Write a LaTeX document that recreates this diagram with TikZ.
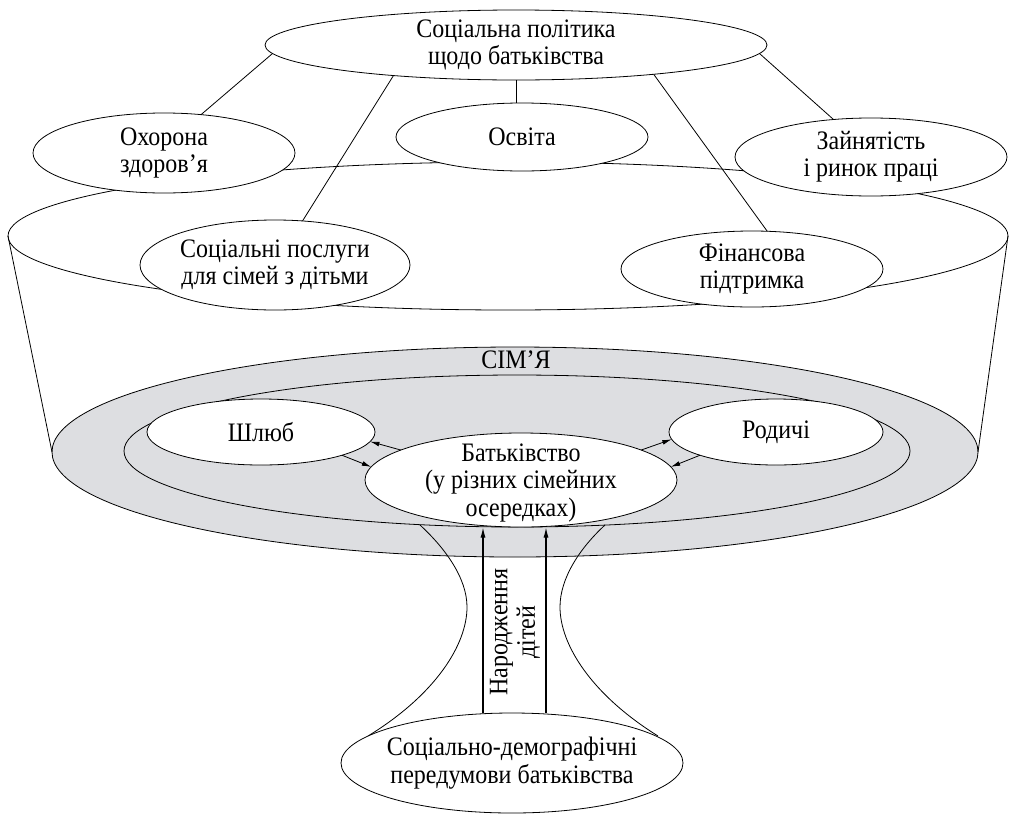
\documentclass[tikz,border=0pt]{standalone}
\usepackage{fontspec}
\setmainfont{Liberation Serif}[FakeStretch=0.9]
\usetikzlibrary{shapes.geometric,arrows.meta}
\definecolor{famgray}{RGB}{221,222,225}
\begin{document}
\begin{tikzpicture}[x=0.75pt,y=-0.75pt,line width=0.6pt,
  ell/.style n args={2}{ellipse, draw, fill=white, inner sep=0pt, outer sep=0pt,
     minimum width=#1*1.5pt, minimum height=#2*1.5pt},
  lbl/.style={align=center, font=\fontsize{20}{20.5}\selectfont, inner sep=0pt},
  arr/.style={-{Latex[length=7pt,width=3.6pt]}},
  uparr/.style={-{Latex[length=8pt,width=3.8pt]}, line width=1pt}]
\path[use as bounding box] (0,0) rectangle (1009,814);

% family ring
\node[ell={463}{105}, fill=famgray] (FAM) at (515,452) {};
\node[ell={393}{76}, fill=none] (IN) at (517,451) {};

% cylinder
\node[ell={500}{74}, fill=none] (BIG) at (508,236) {};
\draw (BIG.west) -- (FAM.west);
\draw (BIG.east) -- (FAM.east);

% policy nodes
\node[ell={251}{35}] (T) at (516,45) {};
\node[ell={131}{40}] (O) at (164,153) {};
\node[ell={126}{34}] (E) at (522,137) {};
\node[ell={136}{39}] (Z) at (871,157) {};
\node[ell={135}{45}] (S) at (275,265) {};
\node[ell={131}{38}] (F) at (752,269) {};

% connectors
\draw (T.182) -- (O.46);
\draw (T.194) -- (S.58);
\draw (T.south) -- (T.south |- E.north);
\draw (T.348) -- (F.68);
\draw (T.358) -- (Z.135);

% family inner nodes
\node[ell={114}{33}] (M) at (261,432) {};
\node[ell={107}{33}] (R) at (776,432) {};
\node[ell={156}{47}] (B) at (521,480) {};

\draw[arr] (B.166) -- (M.-5);
\draw[arr] (M.-16) -- (B.175);
\draw[arr] (B.14) -- (R.184);
\draw[arr] (R.197) -- (B.5);

% hourglass
\draw (420,525) .. controls (445,548) and (467,578) .. (467,607)
      .. controls (467,645) and (435,695) .. (368,736);
\draw (605,525) .. controls (580,548) and (560,578) .. (560,607)
      .. controls (560,645) and (592,695) .. (658,736);

\node[ell={171}{50}] (D) at (512,763) {};

\coordinate (a1) at (483,0);
\coordinate (a2) at (546,0);
\draw[uparr] (a1 |- D.north) -- (a1 |- B.south);
\draw[uparr] (a2 |- D.north) -- (a2 |- B.south);

% labels
\node[lbl] (Tt) at (T) {Соціальна політика\\щодо батьківства};
\node[lbl] (Ot) at (O) {Охорона\\здоров’я};
\node[lbl] (Et) at (E) {Освіта};
\node[lbl] (Zt) at (Z) {Зайнятість\\і ринок праці};
\node[lbl] (St) at (S) {Соціальні послуги\\для сімей з дітьми};
\node[lbl] (Ft) at (F) {Фінансова\\підтримка};
\node[lbl] (FAMt) at (516,360) {СІМ’Я};
\node[lbl] (Mt) at (M) {Шлюб};
\node[lbl] (Rt) at (R) {Родичі};
\node[lbl] (Bt) at (521,483) {Батьківство\\(у різних сімейних\\осередках)};
\node[lbl] (Dt) at (D) {Соціально-демографічні\\передумови батьківства};
\node[lbl, rotate=90] (Nt) at (515,632) {Народження\\дітей};
\end{tikzpicture}
\end{document}
